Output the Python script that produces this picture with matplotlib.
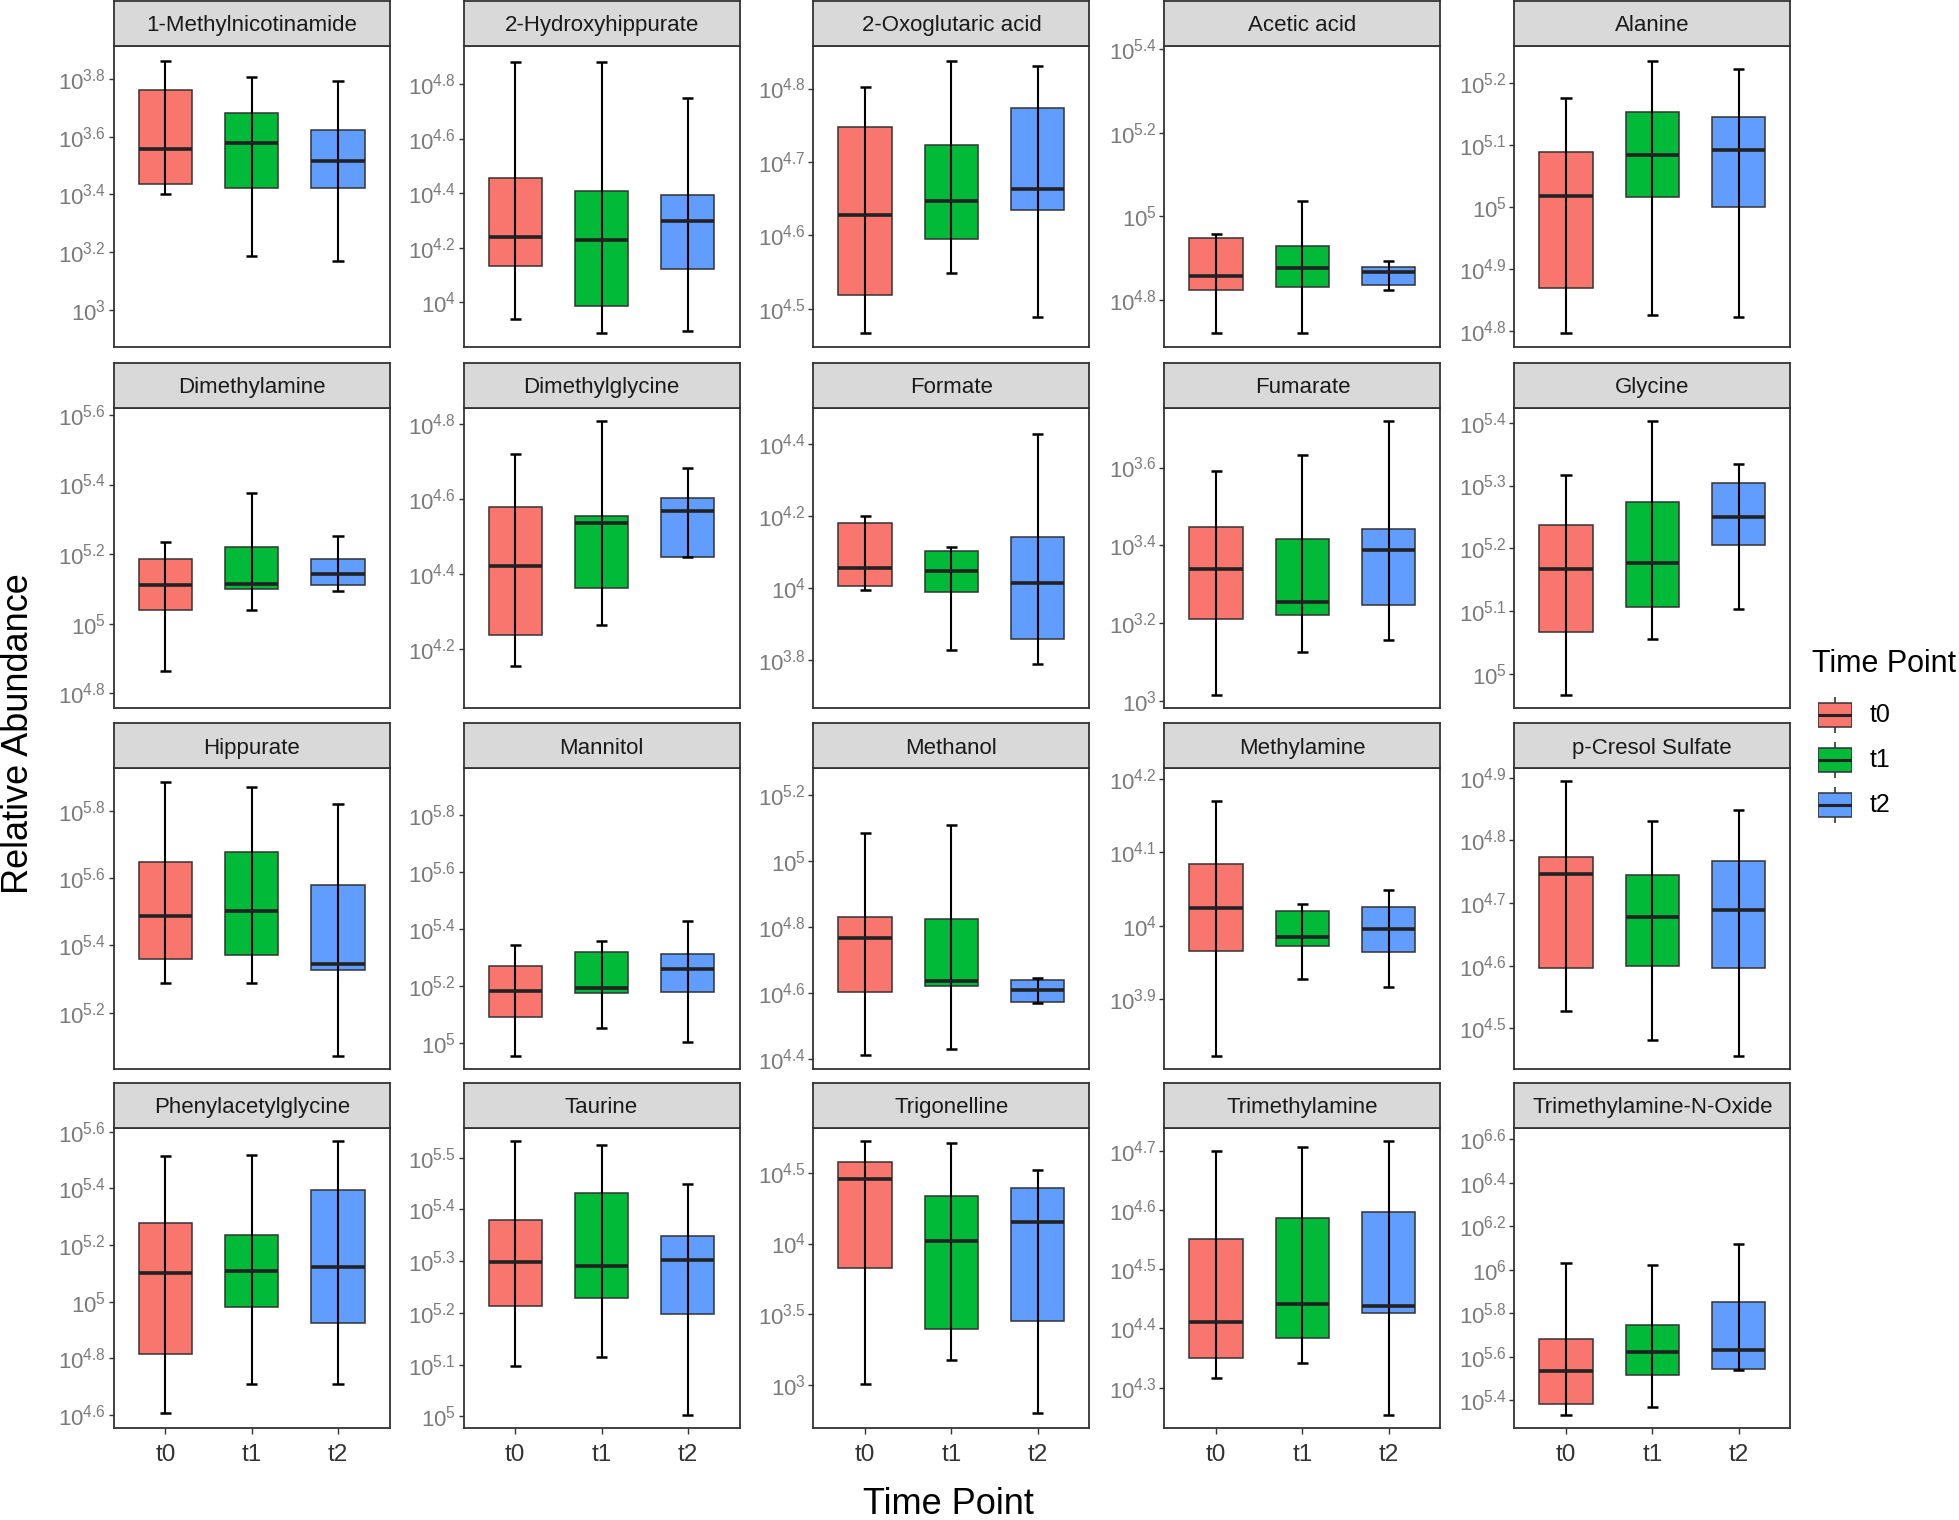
import numpy as np
import matplotlib
matplotlib.use("Agg")
import matplotlib.pyplot as plt
from matplotlib.ticker import MultipleLocator, FuncFormatter

plt.rcParams['font.family'] = ['Liberation Sans', 'DejaVu Sans']
plt.rcParams['mathtext.fontset'] = 'custom'
plt.rcParams['mathtext.rm'] = 'Liberation Sans'
plt.rcParams['mathtext.it'] = 'Liberation Sans:italic'
plt.rcParams['mathtext.bf'] = 'Liberation Sans:bold'

# -------------------------------
# data (log10 of relative abundance)
# -------------------------------
metabolites = ["1-Methylnicotinamide", "2-Hydroxyhippurate", "2-Oxoglutaric acid", "Acetic acid", "Alanine",
               "Dimethylamine", "Dimethylglycine", "Formate", "Fumarate", "Glycine",
               "Hippurate", "Mannitol", "Methanol", "Methylamine", "p-Cresol Sulfate",
               "Phenylacetylglycine", "Taurine", "Trigonelline", "Trimethylamine", "Trimethylamine-N-Oxide"]
time_points = ["t0", "t1", "t2"]
colors = ["#F8766D", "#00BA38", "#619CFF"]

# per metabolite: values for t0, t1, t2
whisk_lo = [[3.400, 3.188, 3.169], [3.938, 3.886, 3.894], [4.466, 4.548, 4.488], [4.720, 4.720, 4.823], [4.797, 4.826, 4.823],
            [4.865, 5.038, 5.094], [4.155, 4.264, 4.445], [3.995, 3.827, 3.789], [3.015, 3.125, 3.155], [4.966, 5.056, 5.103],
            [5.288, 5.288, 5.072], [4.954, 5.050, 5.002], [4.411, 4.430, 4.570], [3.823, 3.927, 3.916], [4.528, 4.481, 4.456],
            [4.607, 4.709, 4.709], [5.097, 5.115, 5.003], [3.007, 3.177, 2.806], [4.316, 4.342, 4.254], [5.331, 5.368, 5.538]]
q1 = [[3.437, 3.422, 3.422], [4.135, 3.988, 4.122], [4.519, 4.595, 4.635], [4.823, 4.832, 4.836], [4.869, 5.016, 5.000],
      [5.038, 5.099, 5.112], [4.237, 4.362, 4.445], [4.007, 3.990, 3.859], [3.210, 3.220, 3.246], [5.066, 5.106, 5.205],
      [5.361, 5.373, 5.326], [5.091, 5.173, 5.179], [4.604, 4.623, 4.574], [3.966, 3.972, 3.964], [4.597, 4.600, 4.597],
      [4.814, 4.981, 4.925], [5.214, 5.228, 5.198], [3.828, 3.396, 3.451], [4.350, 4.383, 4.426], [5.383, 5.517, 5.545]]
median = [[3.558, 3.577, 3.517], [4.240, 4.228, 4.298], [4.628, 4.647, 4.663], [4.858, 4.876, 4.866], [5.018, 5.083, 5.092],
          [5.110, 5.113, 5.142], [4.422, 4.535, 4.568], [4.057, 4.047, 4.013], [3.338, 3.253, 3.388], [5.167, 5.176, 5.250],
          [5.487, 5.504, 5.346], [5.183, 5.191, 5.259], [4.767, 4.637, 4.609], [4.024, 3.984, 3.995], [4.746, 4.677, 4.689],
          [5.101, 5.107, 5.122], [5.299, 5.291, 5.302], [4.458, 4.016, 4.151], [4.411, 4.441, 4.438], [5.534, 5.623, 5.631]]
q3 = [[3.762, 3.682, 3.622], [4.456, 4.407, 4.393], [4.747, 4.723, 4.773], [4.949, 4.930, 4.880], [5.088, 5.153, 5.144],
      [5.186, 5.219, 5.186], [4.579, 4.555, 4.604], [4.180, 4.103, 4.141], [3.446, 3.415, 3.441], [5.237, 5.274, 5.304],
      [5.650, 5.678, 5.579], [5.271, 5.318, 5.311], [4.831, 4.825, 4.641], [4.084, 4.020, 4.025], [4.773, 4.744, 4.767],
      [5.279, 5.236, 5.395], [5.379, 5.432, 5.348], [4.573, 4.338, 4.392], [4.551, 4.586, 4.597], [5.683, 5.746, 5.854]]
whisk_hi = [[3.861, 3.808, 3.794], [4.884, 4.884, 4.749], [4.802, 4.837, 4.831], [4.958, 5.037, 4.893], [5.175, 5.235, 5.222],
            [5.236, 5.375, 5.252], [4.721, 4.809, 4.684], [4.201, 4.113, 4.428], [3.590, 3.631, 3.720], [5.316, 5.403, 5.335],
            [5.888, 5.871, 5.823], [5.344, 5.359, 5.428], [5.087, 5.111, 4.646], [4.169, 4.030, 4.049], [4.894, 4.831, 4.849],
            [5.513, 5.518, 5.566], [5.532, 5.524, 5.449], [4.721, 4.710, 4.516], [4.700, 4.707, 4.716], [6.029, 6.020, 6.118]]

# free y scales (log10 range shown in each facet) and tick spacing
y_lo = [2.873, 3.837, 4.448, 4.688, 4.775, 4.756, 4.041, 3.665, 2.980, 4.945,
        5.032, 4.907, 4.370, 3.805, 4.435, 4.553, 4.977, 2.694, 4.231, 5.270]
y_hi = [3.914, 4.941, 4.858, 5.408, 5.259, 5.621, 4.844, 4.502, 3.754, 5.424,
        5.928, 5.965, 5.282, 4.214, 4.915, 5.614, 5.558, 4.818, 4.739, 6.654]
tick_step = [0.2, 0.2, 0.1, 0.2, 0.1, 0.2, 0.2, 0.2, 0.2, 0.1,
             0.2, 0.2, 0.2, 0.1, 0.1, 0.2, 0.1, 0.5, 0.1, 0.2]

# -------------------------------
# layout (pixels)
# -------------------------------
W, H = 1959, 1520
fig = plt.figure(figsize=(W / 100, H / 100), dpi=100)

col_left = [113.7, 463.5, 813.4, 1164.4, 1514.3]
panel_w = 276
row_top = [46, 407.7, 768.3, 1127.7]
panel_h = 300.7
strip_h = 45

def pow_label(v, pos=None):
    v = round(v, 1)
    s = str(int(round(v))) if abs(v - round(v)) < 1e-6 else f"{v:g}"
    return r"$\mathregular{10^{%s}}$" % s

x = np.arange(1, 4)
box_w = 0.62
cap_w = 0.13

for i, name in enumerate(metabolites):
    r, c = divmod(i, 5)
    left = col_left[c] / W
    bottom = 1 - (row_top[r] + panel_h) / H
    ax = fig.add_axes([left, bottom, panel_w / W, panel_h / H])

    lo = np.array(whisk_lo[i]); a = np.array(q1[i]); m = np.array(median[i])
    b = np.array(q3[i]); hi = np.array(whisk_hi[i])

    ax.bar(x, b - a, bottom=a, width=box_w, color=colors, edgecolor="#333333", linewidth=1.1, zorder=2)
    ax.vlines(x, lo, hi, color="black", linewidth=1.5, zorder=3)
    ax.hlines(lo, x - cap_w / 2, x + cap_w / 2, color="black", linewidth=1.8, zorder=3)
    ax.hlines(hi, x - cap_w / 2, x + cap_w / 2, color="black", linewidth=1.8, zorder=3)
    ax.hlines(m, x - box_w / 2, x + box_w / 2, color="#222222", linewidth=2.6, zorder=4)

    ax.set_xlim(0.4, 3.6)
    ax.set_ylim(y_lo[i], y_hi[i])
    ax.yaxis.set_major_locator(MultipleLocator(tick_step[i]))
    ax.yaxis.set_major_formatter(FuncFormatter(pow_label))
    ax.tick_params(axis="y", labelsize=16, colors="#333333", labelcolor="#7A7A7A", length=3.5, width=1, pad=2)
    for sp in ax.spines.values():
        sp.set_color("#333333")
        sp.set_linewidth(1.3)

    if r == 3:
        ax.set_xticks(x)
        ax.set_xticklabels(time_points)
        ax.tick_params(axis="x", labelsize=17.5, colors="#333333", labelcolor="#333333", length=4, width=1, pad=7)
    else:
        ax.set_xticks([])

    # facet strip
    sax = fig.add_axes([left, 1 - row_top[r] / H, panel_w / W, strip_h / H])
    sax.set_facecolor("#D9D9D9")
    sax.set_xticks([]); sax.set_yticks([])
    for sp in sax.spines.values():
        sp.set_color("#333333")
        sp.set_linewidth(1.3)
    sax.text(0.5, 0.45, name, ha="center", va="center", fontsize=16, color="#1A1A1A", transform=sax.transAxes)

# axis titles
fig.text(19 / W, 1 - 734 / H, "Relative Abundance", rotation=90, ha="center", va="center", fontsize=26)
fig.text(948 / W, 1 - 1505 / H, "Time Point", ha="center", va="center", fontsize=26)

# legend
fig.text(1812 / W, 1 - 664 / H, "Time Point", ha="left", va="center", fontsize=22)
key_y = [715, 760, 805]
for k, tp in enumerate(time_points):
    kax = fig.add_axes([1818 / W, 1 - (key_y[k] + 18) / H, 34 / W, 36 / H])
    kax.set_xlim(0, 1); kax.set_ylim(0, 1)
    kax.axis("off")
    kax.bar([0.5], [0.66], bottom=0.17, width=1.0, color=colors[k], edgecolor="#333333", linewidth=1.1, zorder=2)
    kax.vlines([0.5, 0.5], [0.0, 0.83], [0.17, 1.0], color="#333333", linewidth=1.2)
    kax.hlines([0.5], 0, 1, color="#222222", linewidth=2.2, zorder=3)
    fig.text(1870 / W, 1 - key_y[k] / H, tp, ha="left", va="center", fontsize=18)

fig.savefig("out.png", dpi=100)
